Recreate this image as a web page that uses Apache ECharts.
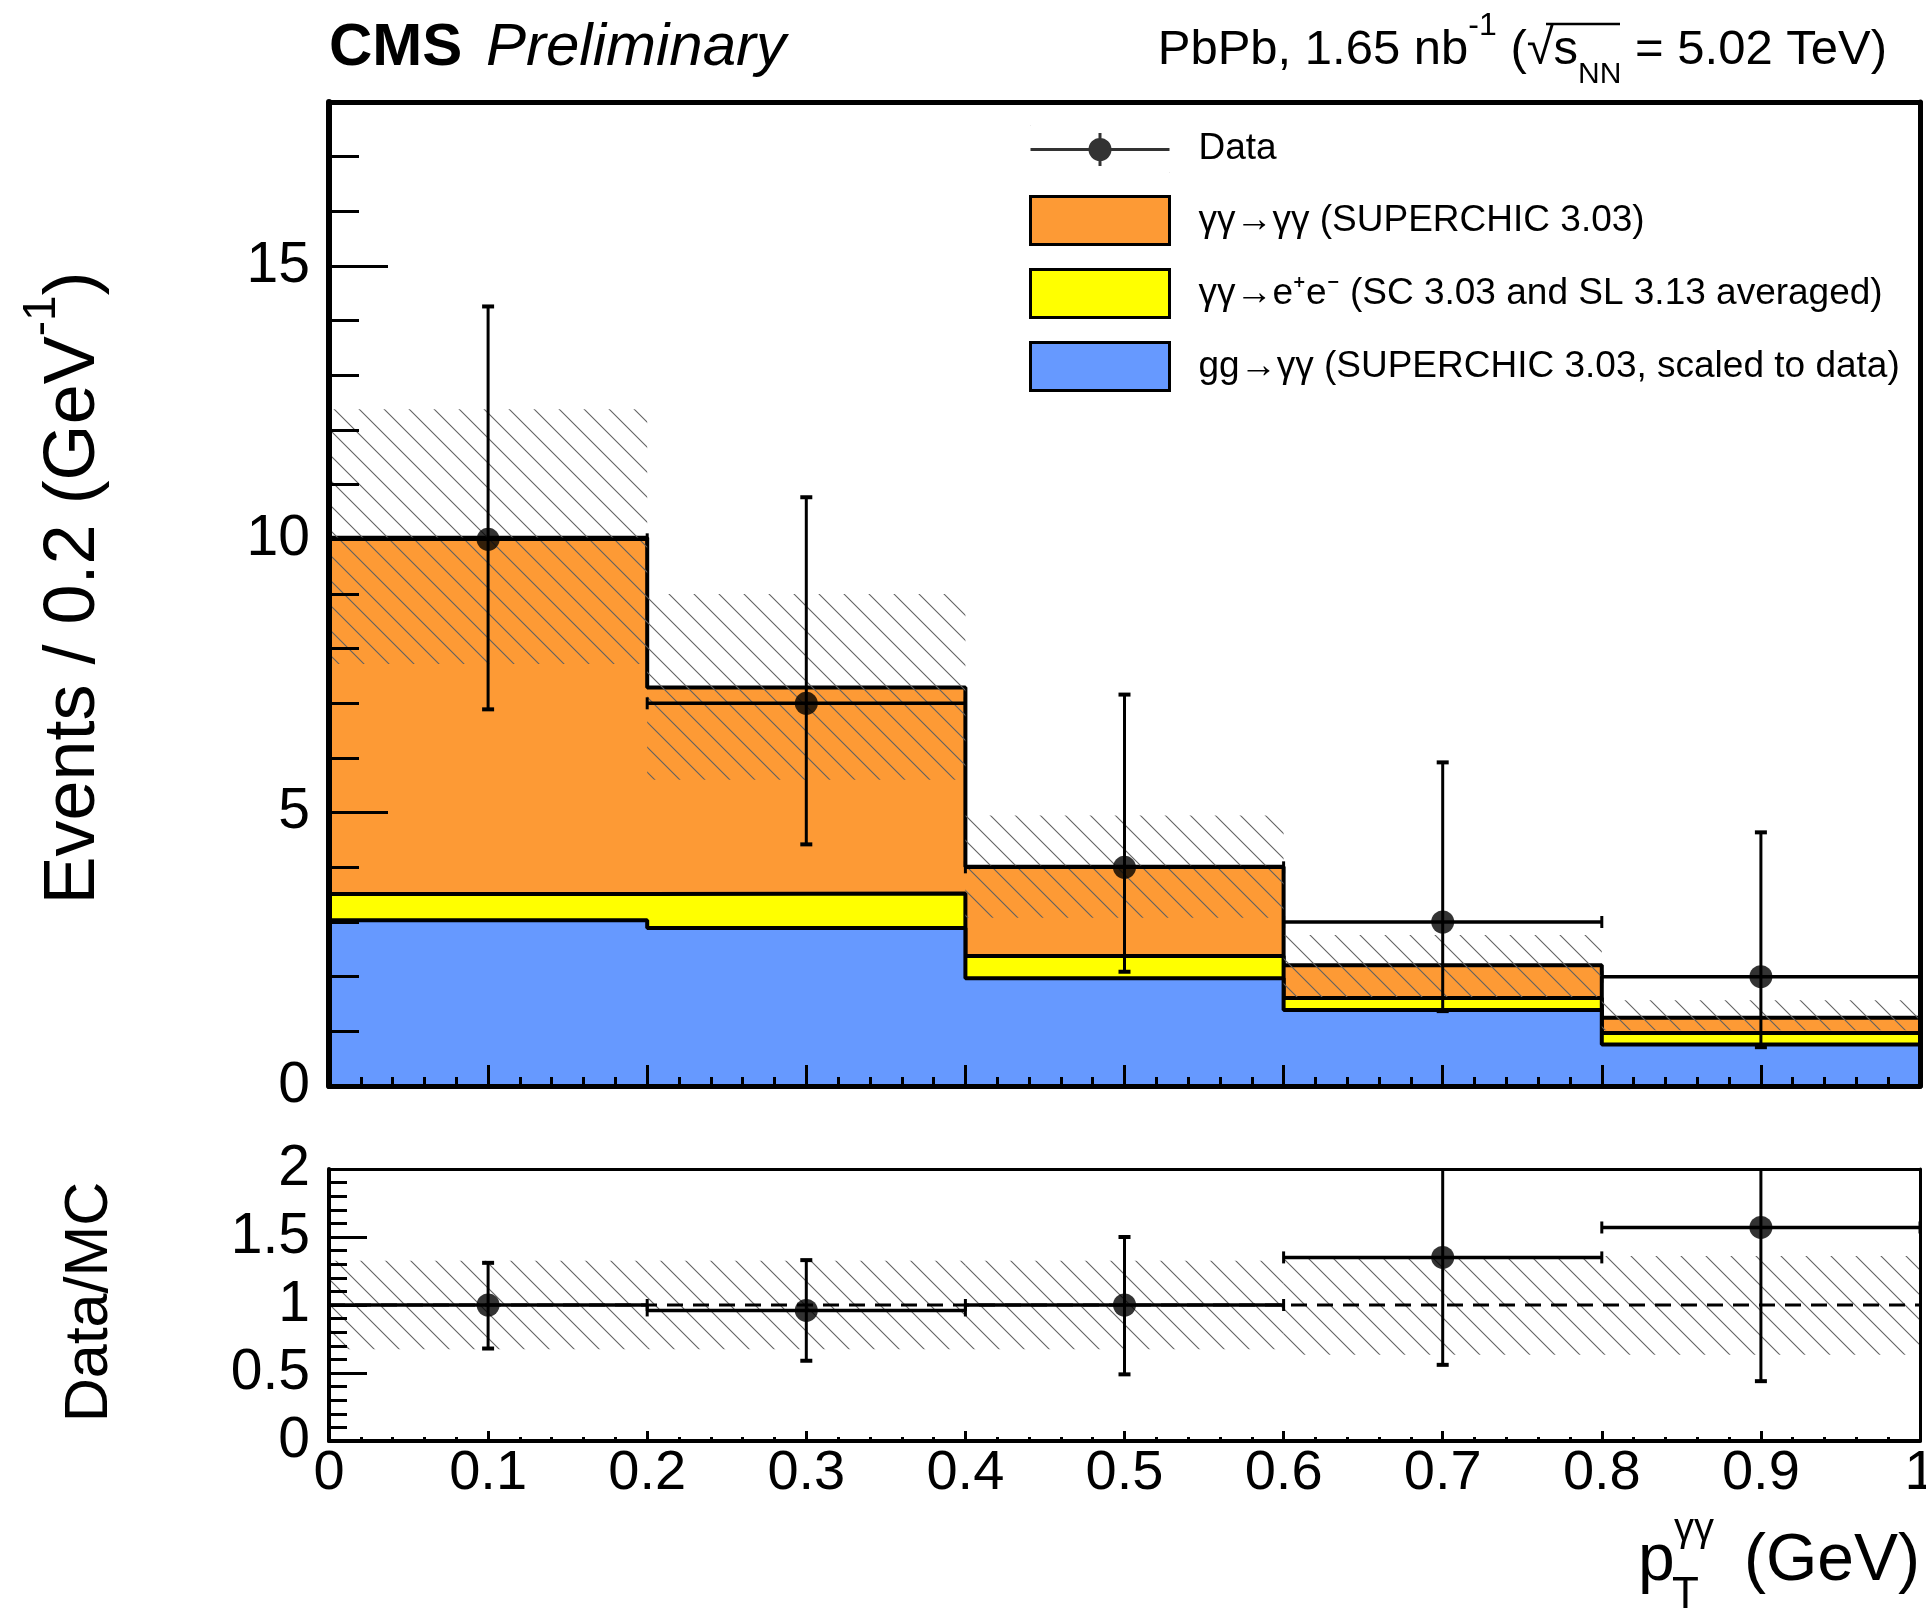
<!DOCTYPE html>
<html>
<head>
<meta charset="utf-8">
<script src="https://cdn.jsdelivr.net/npm/echarts@6/dist/echarts.min.js"></script>
<style>
  html, body { margin: 0; padding: 0; background: #fff; }
  #chart { width: 1926px; height: 1615px; }
</style>
</head>
<body>
<div id="chart"></div>
<script>
// pT bins (GeV)
const binEdges = [0, 0.2, 0.4, 0.6, 0.8, 1.0];
const binCenters = [0.1, 0.3, 0.5, 0.7, 0.9];
const binHalfWidth = 0.1;

// stacked MC (events / 0.2 GeV)
const ggToGG = [3.03, 2.89, 1.97, 1.39, 0.76];
const ggToEE = [0.48, 0.63, 0.41, 0.22, 0.21];
const lblToGG = [6.52, 3.77, 1.63, 0.60, 0.28];

// MC uncertainty band
const mcBandLo = [7.72, 5.60, 3.08, 1.63, 1.02];
const mcBandHi = [12.38, 9.00, 4.95, 2.76, 1.57];

// data with Poisson errors
const dataY = [10, 7, 4, 3, 2];
const dataErrLo = [3.11, 2.58, 1.91, 1.63, 1.29];
const dataErrHi = [4.26, 3.77, 3.16, 2.92, 2.64];

// Data / MC
const ratioY = [1.0, 0.96, 1.0, 1.35, 1.57];
const ratioLo = [0.68, 0.59, 0.49, 0.56, 0.44];
const ratioHi = [1.31, 1.33, 1.50, 2.67, 3.70];
const ratioBandLo = [0.675, 0.675, 0.675, 0.635, 0.635];
const ratioBandHi = [1.325, 1.325, 1.325, 1.36, 1.36];

// tick labels
const mainYTicks = [0, 5, 10, 15];
const ratioMax = 2;

const FONT = 'Liberation Sans';
const C_ORANGE = '#fd9a35';
const C_YELLOW = '#ffff00';
const C_BLUE = '#6699ff';

const NAME_DATA = 'Data';
const NAME_LBL = 'γγ→γγ (SUPERCHIC 3.03)';
const NAME_EE = 'γγ→e⁺e⁻ (SC 3.03 and SL 3.13 averaged)';
const NAME_GG = 'gg→γγ (SUPERCHIC 3.03, scaled to data)';

// cumulative stack tops (THStack style)
const topGG = ggToGG.slice();
const topEE = ggToGG.map((v, i) => v + ggToEE[i]);
const topLbl = topEE.map((v, i) => v + lblToGG[i]);

function makeHatch(step) {
  const c = document.createElement('canvas');
  c.width = step; c.height = step;
  const ctx = c.getContext('2d');
  ctx.strokeStyle = '#606060';
  ctx.lineWidth = 1.1;
  for (const o of [-step, 0, step]) {
    ctx.beginPath();
    ctx.moveTo(o - 3, -3);
    ctx.lineTo(o + step + 3, step + 3);
    ctx.stroke();
  }
  return { image: c, repeat: 'repeat' };
}
const hatch = makeHatch(25);

function stepData(vals) {
  const pts = vals.map((v, i) => [binEdges[i], v]);
  pts.push([binEdges[binEdges.length - 1], vals[vals.length - 1]]);
  return pts;
}

function bandItem(params, api) {
  const a = api.coord([api.value(0), api.value(3)]);
  const b = api.coord([api.value(1), api.value(2)]);
  return {
    type: 'rect',
    shape: { x: a[0], y: a[1], width: b[0] - a[0], height: b[1] - a[1] },
    style: { fill: hatch }
  };
}

function seg(x1, y1, x2, y2, w) {
  return { type: 'line', shape: { x1, y1, x2, y2 }, style: { stroke: '#000', lineWidth: w || 3 } };
}

function errItem(yMax) {
  return function (params, api) {
    const x = api.value(0), y = api.value(1), lo = api.value(2), hi = api.value(3), xe = api.value(4);
    const c = api.coord([x, y]);
    const top = api.coord([x, Math.min(hi, yMax)]);
    const bot = api.coord([x, lo]);
    const l = api.coord([x - xe, y]);
    const r = api.coord([x + xe, y]);
    const cap = 6;
    const ch = [
      seg(c[0], top[1], c[0], bot[1]),
      seg(l[0], c[1], r[0], c[1], 3.5),
      seg(c[0] - cap, bot[1], c[0] + cap, bot[1], 4),
      seg(l[0], c[1] - cap, l[0], c[1] + cap),
      seg(r[0], c[1] - cap, r[0], c[1] + cap)
    ];
    if (hi <= yMax) ch.push(seg(c[0] - cap, top[1], c[0] + cap, top[1], 4));
    return { type: 'group', children: ch };
  };
}

function histSeries(name, tops, color, z) {
  return {
    name, type: 'line', step: 'end', xAxisIndex: 0, yAxisIndex: 0,
    data: stepData(tops), symbol: 'none', z, silent: true,
    itemStyle: { color },
    lineStyle: { color: '#000', width: 4 },
    areaStyle: { color, opacity: 1, origin: 'start' }
  };
}

const noSplit = { show: false };
function frameAxis(grid, pos, width, min, max) {
  return {
    gridIndex: grid, type: 'value', position: pos, min, max, z: 10,
    axisLine: { onZero: false, lineStyle: { color: '#000', width } },
    axisTick: { show: false }, axisLabel: { show: false }, splitLine: noSplit
  };
}

const chart = echarts.init(document.getElementById('chart'));

const option = {
  animation: false,
  backgroundColor: '#fff',
  textStyle: { fontFamily: FONT, color: '#000' },
  grid: [
    { left: 329, top: 102, width: 1591, height: 984, outerBoundsMode: 'none', containLabel: false },
    { left: 329, top: 1169, width: 1591, height: 272, outerBoundsMode: 'none', containLabel: false }
  ],
  xAxis: [
    {
      gridIndex: 0, type: 'value', min: 0, max: 1, interval: 0.1, position: 'bottom', z: 10,
      axisLine: { onZero: false, lineStyle: { color: '#000', width: 5 } },
      axisTick: { inside: true, length: 21, lineStyle: { color: '#000', width: 3 } },
      minorTick: { show: true, splitNumber: 5, length: 9, lineStyle: { color: '#000', width: 3 } },
      axisLabel: { show: false }, splitLine: noSplit, minorSplitLine: noSplit
    },
    frameAxis(0, 'top', 5, 0, 1),
    {
      gridIndex: 1, type: 'value', min: 0, max: 1, interval: 0.1, position: 'bottom', z: 10,
      axisLine: { onZero: false, lineStyle: { color: '#000', width: 4 } },
      axisTick: { inside: true, length: 10, lineStyle: { color: '#000', width: 3 } },
      minorTick: { show: true, splitNumber: 5, length: 4, lineStyle: { color: '#000', width: 3 } },
      axisLabel: { fontSize: 56, margin: 33, verticalAlign: 'middle', color: '#000', fontFamily: FONT },
      splitLine: noSplit, minorSplitLine: noSplit
    },
    frameAxis(1, 'top', 3, 0, 1)
  ],
  yAxis: [
    {
      gridIndex: 0, type: 'value', min: 0, max: 18, interval: 5, position: 'left', z: 10,
      axisLine: { onZero: false, lineStyle: { color: '#000', width: 6 } },
      axisTick: { inside: true, length: 59, lineStyle: { color: '#000', width: 3 } },
      axisLabel: {
        fontSize: 57, margin: 19, color: '#000', fontFamily: FONT,
        formatter: v => (mainYTicks.includes(v) ? String(v) : '')
      },
      splitLine: noSplit
    },
    {
      gridIndex: 0, type: 'value', min: 0, max: 18, interval: 1, position: 'left', z: 10,
      axisLine: { show: false },
      axisTick: { inside: true, length: 30, lineStyle: { color: '#000', width: 3 } },
      axisLabel: { show: false }, splitLine: noSplit
    },
    frameAxis(0, 'right', 5, 0, 18),
    {
      gridIndex: 1, type: 'value', min: 0, max: ratioMax, interval: 0.5, position: 'left', z: 10,
      axisLine: { onZero: false, lineStyle: { color: '#000', width: 4 } },
      axisTick: { inside: true, length: 38, lineStyle: { color: '#000', width: 3 } },
      minorTick: { show: true, splitNumber: 5, length: 18, lineStyle: { color: '#000', width: 3 } },
      axisLabel: { fontSize: 57, margin: 19, color: '#000', fontFamily: FONT },
      splitLine: noSplit, minorSplitLine: noSplit
    },
    frameAxis(1, 'right', 3, 0, ratioMax)
  ],
  legend: {
    orient: 'vertical', left: 1029, top: 125, padding: 0,
    itemWidth: 139, itemHeight: 48, itemGap: 22, selectedMode: false,
    textStyle: { fontSize: 37, color: '#000', fontFamily: FONT, padding: [0, 0, 0, 24] },
    data: [
      {
        name: NAME_DATA,
        icon: 'path://M0 0L0.4 0L0 0.4Z M139 48L138.6 48L139 47.6Z M0 23L139 23L139 26L0 26Z M68 8L71 8L71 41L68 41Z M58 24.5A11.5 11.5 0 1 1 81 24.5A11.5 11.5 0 1 1 58 24.5Z',
        itemStyle: { color: '#000', borderWidth: 0 }
      },
      { name: NAME_LBL, icon: 'rect', itemStyle: { color: C_ORANGE, borderColor: '#000', borderWidth: 3 } },
      { name: NAME_EE, icon: 'rect', itemStyle: { color: C_YELLOW, borderColor: '#000', borderWidth: 3 } },
      { name: NAME_GG, icon: 'rect', itemStyle: { color: C_BLUE, borderColor: '#000', borderWidth: 3 } }
    ]
  },
  series: [
    histSeries(NAME_LBL, topLbl, C_ORANGE, 2),
    histSeries(NAME_EE, topEE, C_YELLOW, 3),
    histSeries(NAME_GG, topGG, C_BLUE, 4),
    {
      name: 'mcBand', type: 'custom', xAxisIndex: 0, yAxisIndex: 0, z: 5, silent: true,
      data: binCenters.map((c, i) => [binEdges[i], binEdges[i + 1], mcBandLo[i], mcBandHi[i]]),
      encode: { x: [0, 1], y: [2, 3] },
      renderItem: bandItem
    },
    {
      name: 'dataErr', type: 'custom', xAxisIndex: 0, yAxisIndex: 0, z: 6, silent: true,
      data: binCenters.map((c, i) => [c, dataY[i], dataY[i] - dataErrLo[i], dataY[i] + dataErrHi[i], binHalfWidth]),
      encode: { x: 0, y: 1 },
      renderItem: errItem(18)
    },
    {
      name: NAME_DATA, type: 'scatter', xAxisIndex: 0, yAxisIndex: 0, z: 7, silent: true,
      data: binCenters.map((c, i) => [c, dataY[i]]),
      symbol: 'circle', symbolSize: 23, itemStyle: { color: '#000' }
    },
    {
      name: 'ratioBand', type: 'custom', xAxisIndex: 2, yAxisIndex: 3, z: 2, silent: true,
      data: binCenters.map((c, i) => [binEdges[i], binEdges[i + 1], ratioBandLo[i], ratioBandHi[i]]),
      encode: { x: [0, 1], y: [2, 3] },
      renderItem: bandItem
    },
    {
      name: 'unity', type: 'line', xAxisIndex: 2, yAxisIndex: 3, z: 3, silent: true,
      data: [[0, 1], [1, 1]], symbol: 'none',
      lineStyle: { color: '#000', width: 3, type: [16, 10] }
    },
    {
      name: 'ratioErr', type: 'custom', xAxisIndex: 2, yAxisIndex: 3, z: 6, silent: true,
      data: binCenters.map((c, i) => [c, ratioY[i], ratioLo[i], ratioHi[i], binHalfWidth]),
      encode: { x: 0, y: 1 },
      renderItem: errItem(ratioMax)
    },
    {
      name: 'ratio', type: 'scatter', xAxisIndex: 2, yAxisIndex: 3, z: 7, silent: true,
      data: binCenters.map((c, i) => [c, ratioY[i]]),
      symbol: 'circle', symbolSize: 23, itemStyle: { color: '#000' }
    }
  ],
  graphic: [
    {
      type: 'text', x: 329, y: 48,
      style: { text: 'CMS', fontFamily: FONT, fontWeight: 'bold', fontSize: 60, fill: '#000', align: 'left', verticalAlign: 'middle' }
    },
    {
      type: 'text', x: 486, y: 48,
      style: { text: 'Preliminary', fontFamily: FONT, fontStyle: 'italic', fontSize: 60, fill: '#000', align: 'left', verticalAlign: 'middle' }
    },
    {
      type: 'text', x: 1887, y: 50,
      style: {
        text: '{a|PbPb, 1.65 nb}{sup|-1}{a| (√}{a|s}{sub|NN}{a| = 5.02 TeV)}',
        align: 'right', verticalAlign: 'middle', fill: '#000',
        rich: {
          a: { fontFamily: FONT, fontSize: 49, lineHeight: 80, verticalAlign: 'middle', fill: '#000' },
          sup: { fontFamily: FONT, fontSize: 32, lineHeight: 40, verticalAlign: 'top', fill: '#000' },
          sub: { fontFamily: FONT, fontSize: 30, lineHeight: 40, verticalAlign: 'bottom', fill: '#000' }
        }
      }
    },
    {
      type: 'line', shape: { x1: 1546, y1: 24, x2: 1620, y2: 24 },
      style: { stroke: '#000', lineWidth: 2.5 }
    },
    {
      type: 'text', x: 74, y: 588, rotation: Math.PI / 2,
      style: {
        text: '{a|Events / 0.2 (GeV}{s|-1}{a|)}',
        align: 'center', verticalAlign: 'middle', fill: '#000',
        rich: {
          a: { fontFamily: FONT, fontSize: 72, lineHeight: 110, verticalAlign: 'middle', fill: '#000' },
          s: { fontFamily: FONT, fontSize: 46, lineHeight: 52, verticalAlign: 'top', fill: '#000' }
        }
      }
    },
    {
      type: 'text', x: 90, y: 1302, rotation: Math.PI / 2,
      style: { text: 'Data/MC', fontFamily: FONT, fontSize: 61, fill: '#000', align: 'center', verticalAlign: 'middle' }
    },
    {
      type: 'text', x: 1920, y: 1562,
      style: { text: '(GeV)', fontFamily: FONT, fontSize: 66, fill: '#000', align: 'right', verticalAlign: 'middle' }
    },
    {
      type: 'text', x: 1638, y: 1562,
      style: { text: 'p', fontFamily: FONT, fontSize: 66, fill: '#000', align: 'left', verticalAlign: 'middle' }
    },
    {
      type: 'text', x: 1674, y: 1530,
      style: { text: 'γγ', fontFamily: FONT, fontSize: 40, fill: '#000', align: 'left', verticalAlign: 'middle' }
    },
    {
      type: 'text', x: 1672, y: 1596,
      style: { text: 'T', fontFamily: FONT, fontSize: 44, fill: '#000', align: 'left', verticalAlign: 'middle' }
    }
  ]
};

chart.setOption(option);
</script>
</body>
</html>
